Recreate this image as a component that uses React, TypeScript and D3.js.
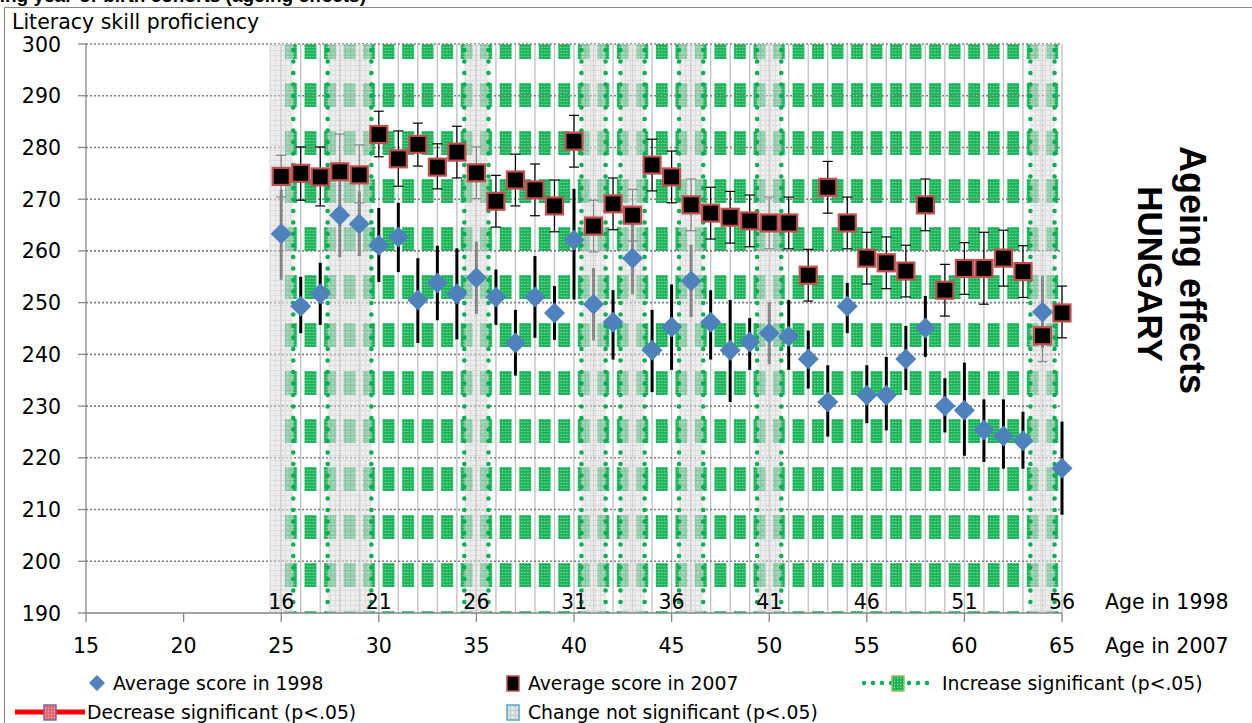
import React from 'react';
import * as d3 from 'd3';

// ---------- DATA ----------
const ages2007 = [25, 26, 27, 28, 29, 30, 31, 32, 33, 34, 35, 36, 37, 38, 39, 40, 41, 42, 43, 44, 45, 46, 47, 48, 49, 50, 51, 52, 53, 54, 55, 56, 57, 58, 59, 60, 61, 62, 63, 64, 65];
const score1998 = [263.3, 249.3, 251.7, 266.9, 265.2, 261.1, 262.7, 250.5, 253.8, 251.7, 254.8, 251.1, 242.2, 251.1, 248.0, 262.1, 249.7, 246.2, 258.6, 240.8, 245.3, 254.2, 246.2, 240.8, 242.4, 244.1, 243.5, 239.1, 230.8, 249.3, 232.1, 232.1, 239.1, 245.1, 230.0, 229.2, 225.4, 224.2, 223.3, 248.2, 218.0];
const hi1998 = [271.8, 255.0, 257.7, 274.8, 271.5, 268.3, 269.3, 258.6, 261.0, 260.5, 261.8, 256.4, 248.6, 259.0, 253.2, 272.0, 256.7, 252.4, 265.6, 248.6, 253.5, 261.2, 252.4, 250.5, 247.0, 250.1, 250.5, 244.6, 237.9, 253.8, 237.9, 239.5, 245.5, 251.3, 235.4, 238.4, 231.3, 231.3, 228.9, 255.2, 227.0];
const lo1998 = [254.4, 244.1, 245.7, 258.8, 259.0, 254.0, 255.9, 242.2, 246.6, 242.9, 247.8, 245.7, 235.9, 243.2, 242.8, 250.6, 242.7, 239.0, 251.6, 232.7, 237.0, 247.2, 239.0, 230.8, 237.0, 238.1, 237.0, 233.4, 224.1, 244.1, 226.7, 225.3, 233.1, 239.5, 224.9, 220.4, 219.2, 217.9, 217.9, 241.2, 209.0];
const score2007 = [274.4, 275.0, 274.3, 275.3, 274.7, 282.5, 277.8, 280.6, 276.2, 279.1, 275.1, 269.6, 273.7, 271.8, 268.7, 281.2, 264.8, 269.1, 266.9, 276.6, 274.3, 268.9, 267.3, 266.5, 265.8, 265.4, 265.4, 255.3, 272.3, 265.4, 258.6, 257.7, 256.1, 268.9, 252.4, 256.6, 256.6, 258.6, 256.0, 243.6, 248.0];
const hi2007 = [278.5, 280.1, 280.1, 282.6, 280.5, 287.0, 283.2, 284.7, 280.7, 284.1, 280.1, 274.6, 278.7, 276.8, 273.7, 286.2, 269.8, 274.1, 271.9, 281.6, 279.3, 273.9, 272.3, 271.5, 270.8, 270.4, 270.4, 260.3, 277.3, 270.4, 263.6, 262.7, 261.1, 273.9, 257.4, 261.6, 263.6, 264.0, 261.0, 248.6, 253.2];
const lo2007 = [270.4, 269.8, 268.7, 268.0, 269.3, 278.2, 272.5, 276.4, 272.0, 274.1, 270.1, 264.6, 268.7, 266.8, 263.7, 276.2, 259.8, 264.1, 261.9, 271.6, 269.3, 263.9, 262.3, 261.5, 260.8, 260.4, 260.4, 250.3, 267.3, 260.4, 253.6, 252.7, 251.1, 263.9, 247.4, 251.6, 249.7, 253.2, 251.0, 238.6, 243.2];
const notSignificantAges = [25, 28, 29, 35, 41, 43, 46, 50, 64];
const yTicks = [190, 200, 210, 220, 230, 240, 250, 260, 270, 280, 290, 300];
const xTicks2007 = [15, 20, 25, 30, 35, 40, 45, 50, 55, 60, 65];
const xTicks1998 = [16, 21, 26, 31, 36, 41, 46, 51, 56];
const cohortGap = 9; // 1998 age + 9 = 2007 age

const W = 1252;
const H = 723;
const FONT = '"DejaVu Sans", Verdana, sans-serif';
const BOLD = '"Liberation Sans", Arial, sans-serif';

const x = d3.scaleLinear().domain([15, 65]).range([86, 1062]);
const y = d3.scaleLinear().domain([190, 300]).range([613, 44]);
const step = x(16) - x(15);
const bandHalf = 0.62 * step;

function groups(arr: number[]) {
  const out: number[][] = [];
  arr.forEach((a) => {
    const last = out[out.length - 1];
    if (last && last[last.length - 1] === a - 1) last.push(a);
    else out.push([a]);
  });
  return out;
}

const diamond = (cx: number, cy: number, r: number) =>
  `M${cx},${cy - r}L${cx + r},${cy}L${cx},${cy + r}L${cx - r},${cy}Z`;

export default function App() {
  const greenAges = ages2007.filter((a) => a < 65);
  const bands = groups(notSignificantAges);
  const dotLines: number[] = [];
  bands.forEach((g) => {
    if (g[0] - 1 >= ages2007[0]) dotLines.push(x(g[0]) - bandHalf);
    dotLines.push(x(g[g.length - 1]) + bandHalf);
  });

  return (
    <svg width={W} height={H} style={{ position: 'absolute', left: 0, top: 0, background: '#fff' }}>
      <defs>
        <pattern id="gtex" patternUnits="userSpaceOnUse" width="3" height="3">
          <rect width="3" height="3" fill="#22b85e" />
          <rect width="1" height="1" fill="#8fdcab" />
          <rect x="2" y="1" width="1" height="1" fill="#00a84a" />
        </pattern>
        <pattern id="inc" patternUnits="userSpaceOnUse" x={x(25)} y={35} width={step} height={48}>
          <rect x={step / 2 - 6} y={0} width={12} height={24} fill="url(#gtex)" />
        </pattern>
        <pattern id="grayTex" patternUnits="userSpaceOnUse" width="5" height="5">
          <rect width="5" height="5" fill="#e0e0e0" />
          <rect width="5" height="1" fill="#c9c9c9" />
          <rect width="1" height="5" fill="#c9c9c9" />
          <rect x="2" y="2" width="1" height="1" fill="#f2f2f2" />
        </pattern>
        <pattern id="redTex" patternUnits="userSpaceOnUse" width="3" height="3">
          <rect width="3" height="3" fill="#e46c6c" />
          <rect width="1" height="1" fill="#f4b0b0" />
        </pattern>
      </defs>

      {/* chart border */}
      <rect x={4.5} y={7.5} width={W} height={H} fill="none" stroke="#868686" strokeWidth={1} />

      {/* cut-off title */}
      <text x={366} y={2} textAnchor="end" fontFamily={BOLD} fontWeight="bold" fontSize={19} fill="#000">
        Following year-of-birth cohorts (ageing effects)
      </text>

      {/* green significant-increase columns */}
      {greenAges.map((a) => (
        <rect key={'g' + a} x={x(a)} y={y(300)} width={x(a + 1) - x(a)} height={y(190) - y(300)} fill="url(#inc)" />
      ))}

      {/* vertical gridlines */}
      {ages2007.map((a) => (
        <line key={'v' + a} x1={x(a)} x2={x(a)} y1={y(300)} y2={y(190)} stroke="#bfbfbf" strokeWidth={1.3} />
      ))}

      {/* horizontal dotted gridlines */}
      {yTicks.filter((t) => t > 190).map((t) => (
        <line key={'h' + t} x1={x(15)} x2={x(65)} y1={y(t)} y2={y(t)} stroke="#7f7f7f" strokeWidth={1.6} strokeDasharray="2 2" />
      ))}

      {/* error bars 1998 (thick) */}
      {ages2007.map((a, i) => (
        <line key={'e98' + a} x1={x(a)} x2={x(a)} y1={y(hi1998[i])} y2={y(lo1998[i])} stroke="#000" strokeWidth={3} />
      ))}

      {/* error bars 2007 (thin, capped) */}
      {ages2007.map((a, i) => (
        <g key={'e07' + a} stroke="#000" strokeWidth={1.2}>
          <line x1={x(a)} x2={x(a)} y1={y(hi2007[i])} y2={y(lo2007[i])} />
          <line x1={x(a) - 5} x2={x(a) + 5} y1={y(hi2007[i])} y2={y(hi2007[i])} />
          <line x1={x(a) - 5} x2={x(a) + 5} y1={y(lo2007[i])} y2={y(lo2007[i])} />
        </g>
      ))}

      {/* change-not-significant bands */}
      {bands.map((g) => (
        <rect key={'b' + g[0]} x={x(g[0]) - bandHalf} y={y(300)} width={x(g[g.length - 1]) - x(g[0]) + 2 * bandHalf}
          height={y(190) - y(300)} fill="url(#grayTex)" opacity={0.62} />
      ))}

      {/* green dotted borders */}
      {dotLines.map((lx, i) => (
        <line key={'d' + i} x1={lx} x2={lx} y1={y(300) + 6} y2={y(190)} stroke="#00b050" strokeWidth={4.6}
          strokeLinecap="round" strokeDasharray="0 11.5" />
      ))}

      {/* axes */}
      <line x1={x(15)} x2={x(15)} y1={y(300)} y2={y(190)} stroke="#868686" strokeWidth={1.3} />
      <line x1={x(15)} x2={x(65)} y1={y(190)} y2={y(190)} stroke="#868686" strokeWidth={1.3} />
      {yTicks.map((t) => (
        <g key={'yt' + t}>
          <line x1={x(15) - 8} x2={x(15)} y1={y(t)} y2={y(t)} stroke="#868686" strokeWidth={1.3} />
          <text x={61} y={y(t) + 7.5} textAnchor="end" fontFamily={FONT} fontSize={20.5} fill="#000">{t}</text>
        </g>
      ))}
      {xTicks2007.map((t) => (
        <g key={'xt' + t}>
          <line x1={x(t)} x2={x(t)} y1={y(190)} y2={y(190) + 9} stroke="#868686" strokeWidth={1.3} />
          <text x={x(t)} y={653} textAnchor="middle" fontFamily={FONT} fontSize={20.5} fill="#000">{t}</text>
        </g>
      ))}
      {xTicks1998.map((t) => (
        <text key={'x98' + t} x={x(t + cohortGap)} y={609} textAnchor="middle" fontFamily={FONT} fontSize={20.5} fill="#000">{t}</text>
      ))}
      <text x={1105} y={609} fontFamily={FONT} fontSize={20.5} fill="#000">Age in 1998</text>
      <text x={1105} y={653} fontFamily={FONT} fontSize={20.5} fill="#000">Age in 2007</text>
      <text x={12} y={29} fontFamily={FONT} fontSize={20.5} fill="#000">Literacy skill proficiency</text>

      {/* markers */}
      {ages2007.map((a, i) => (
        <path key={'m98' + a} d={diamond(x(a), y(score1998[i]), 10.5)} fill="#4f81bd" />
      ))}
      {ages2007.map((a, i) => (
        <rect key={'m07' + a} x={x(a) - 8.5} y={y(score2007[i]) - 8.5} width={17} height={17} fill="#000" stroke="#c0504d" strokeWidth={2.2} />
      ))}

      {/* right titles */}
      <text transform={`translate(1180,270) rotate(90)`} textAnchor="middle" fontFamily={BOLD}
        fontWeight="bold" fontSize={36} fill="#000">Ageing effects</text>
      <text transform={`translate(1138,274) rotate(90)`} textAnchor="middle" fontFamily={BOLD}
        fontWeight="bold" fontSize={35} fill="#000">HUNGARY</text>

      {/* legend */}
      <g fontFamily={FONT} fontSize={18.8} fill="#000">
        <path d={diamond(97, 683, 8)} fill="#4f81bd" />
        <text x={113} y={690}>Average score in 1998</text>
        <rect x={507} y={676} width={12} height={15} fill="#000" stroke="#c0504d" strokeWidth={1.5} />
        <text x={528} y={690}>Average score in 2007</text>
        <line x1={864} x2={934} y1={683} y2={683} stroke="#00b050" strokeWidth={4.4} strokeLinecap="round" strokeDasharray="0 9" />
        <rect x={892} y={676} width={12} height={15} fill="url(#gtex)" stroke="#9bbb59" strokeWidth={1.5} />
        <text x={942} y={690}>Increase significant (p&lt;.05)</text>
        <line x1={15} x2={85} y1={712} y2={712} stroke="#ff0000" strokeWidth={5} />
        <rect x={44} y={705} width={12} height={15} fill="url(#redTex)" stroke="#8064a2" strokeWidth={1.5} />
        <text x={87} y={719}>Decrease significant (p&lt;.05)</text>
        <rect x={507} y={705} width={12} height={15} fill="url(#grayTex)" stroke="#4bacc6" strokeWidth={1.5} />
        <text x={528} y={719}>Change not significant (p&lt;.05)</text>
      </g>
    </svg>
  );
}
